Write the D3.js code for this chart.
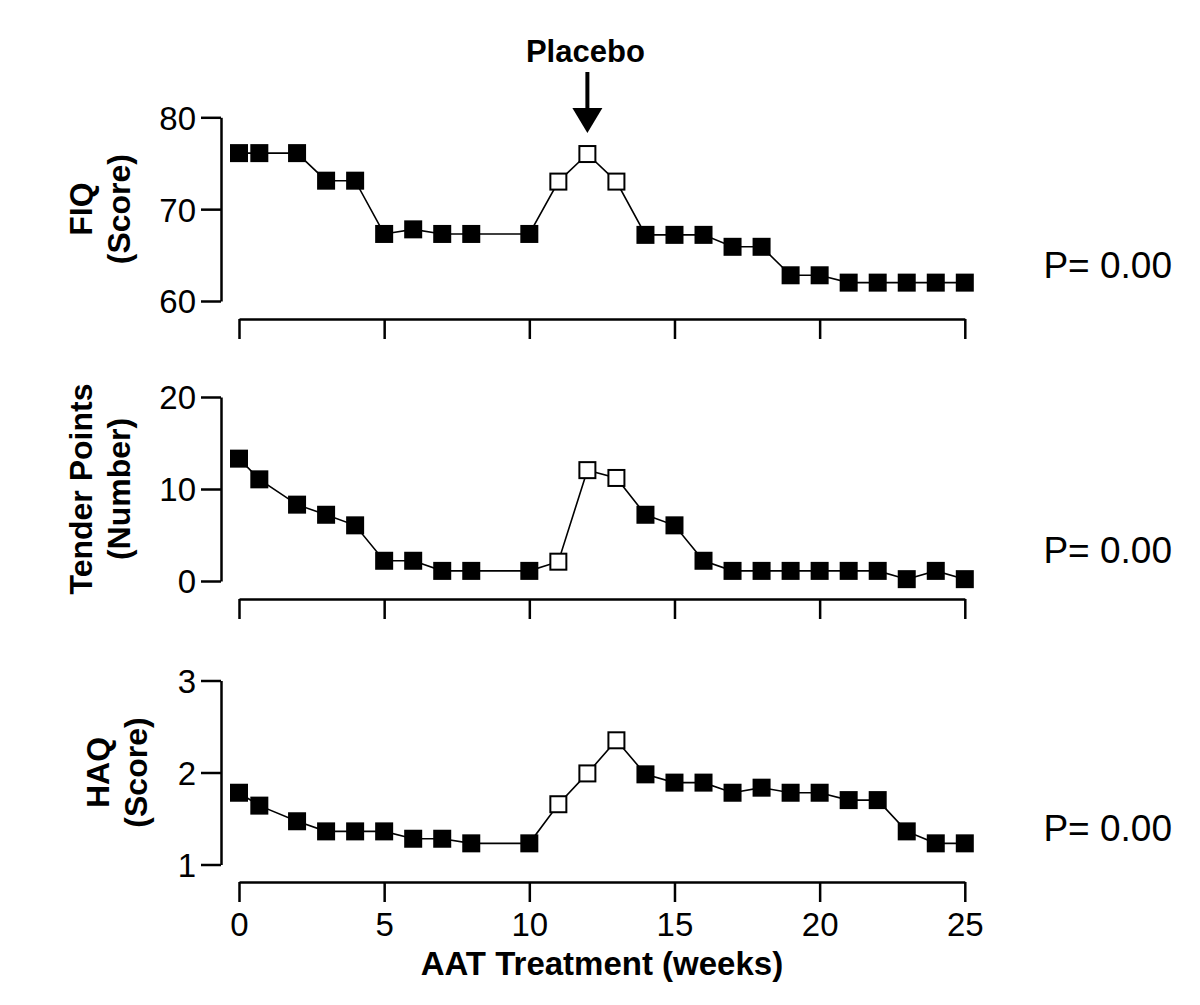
<!DOCTYPE html>
<html>
<head>
<meta charset="utf-8">
<script src="https://cdn.jsdelivr.net/npm/d3@7"></script>
<style>
  body { margin: 0; background: #fff; }
  svg { display: block; font-family: "Liberation Sans", Arial, sans-serif; }
  .axis path, .axis line { stroke: #000; stroke-width: 2.5; }
  .axis text { font-size: 33px; fill: #000; }
  .ylab { font-size: 32px; font-weight: bold; }
</style>
</head>
<body>
<div id="chart"></div>
<script>
// weeks of AAT treatment (second visit is just after baseline)
var weeks = [0, 0.7, 2, 3, 4, 5, 6, 7, 8, 10, 11, 12, 13, 14, 15, 16, 17, 18, 19, 20, 21, 22, 23, 24, 25];
// placebo weeks are drawn as open squares
var placeboWeeks = [11, 12, 13];

var fiqScore = [76.1, 76.1, 76.1, 73.1, 73.1, 67.3, 67.8, 67.3, 67.3, 67.3, 73.0, 76.0, 73.0,
                67.2, 67.2, 67.2, 65.9, 65.9, 62.8, 62.8, 62.0, 62.0, 62.0, 62.0, 62.0];
var tenderPoints = [13.3, 11.05, 8.3, 7.2, 6.05, 2.2, 2.2, 1.1, 1.1, 1.1, 2.1, 12.05, 11.2,
                    7.2, 6.05, 2.2, 1.1, 1.1, 1.1, 1.1, 1.1, 1.1, 0.2, 1.1, 0.2];
var haqScore = [1.78, 1.64, 1.47, 1.36, 1.36, 1.36, 1.28, 1.28, 1.23, 1.23, 1.655, 1.99, 2.35,
                1.98, 1.89, 1.89, 1.78, 1.835, 1.78, 1.78, 1.70, 1.70, 1.36, 1.23, 1.23];

var xTicks = [0, 5, 10, 15, 20, 25];
var fiqTicks = [60, 70, 80];
var tenderTicks = [0, 10, 20];
var haqTicks = [1, 2, 3];
var pLabel = "P= 0.00";

var svgWidth = 1200, svgHeight = 1005;

var svg = d3.select("#chart").append("svg")
    .attr("width", svgWidth)
    .attr("height", svgHeight);

var xScale = d3.scaleLinear().domain([0, 25]).range([239, 964.8]);

var panels = [
  { lines: ["FIQ", "(Score)"], values: fiqScore, ticks: fiqTicks, domain: [60, 80],
    top: 117.3, bottom: 301, xAxisY: 319, labX: [80, 118], pY: 278, showX: false },
  { lines: ["Tender Points", "(Number)"], values: tenderPoints, ticks: tenderTicks, domain: [0, 20],
    top: 397, bottom: 581, xAxisY: 599, labX: [80, 118], pY: 563, showX: false },
  { lines: ["HAQ", "(Score)"], values: haqScore, ticks: haqTicks, domain: [1, 3],
    top: 680.5, bottom: 864.5, xAxisY: 882, labX: [97, 135], pY: 841, showX: true }
];

panels.forEach(function(p) {
  var yScale = d3.scaleLinear().domain(p.domain).range([p.bottom, p.top]);

  // y axis
  var yAxis = d3.axisLeft(yScale).tickValues(p.ticks).tickFormat(d3.format("d"))
      .tickSize(20).tickSizeOuter(0).tickPadding(5);
  var yg = svg.append("g").attr("class", "axis")
      .attr("transform", "translate(221,0)")
      .call(yAxis);
  yg.selectAll("text").attr("dy", "0.36em");

  // x axis
  var xAxis = d3.axisBottom(xScale).tickValues(xTicks).tickSize(20).tickSizeOuter(0).tickPadding(11);
  if (!p.showX) xAxis.tickFormat("");
  svg.append("g").attr("class", "axis")
      .attr("transform", "translate(0," + p.xAxisY + ")")
      .call(xAxis);

  // y title, two lines, rotated
  var midY = (p.top + p.bottom) / 2;
  p.lines.forEach(function(txt, i) {
    svg.append("text")
      .attr("class", "ylab")
      .attr("transform", "translate(" + p.labX[i] + "," + midY + ") rotate(-90)")
      .attr("text-anchor", "middle")
      .attr("dy", "0.36em")
      .text(txt);
  });

  var pts = weeks.map(function(w, i) {
    return { x: w, y: p.values[i], placebo: placeboWeeks.indexOf(w) >= 0 };
  });

  var line = d3.line().x(d => xScale(d.x)).y(d => yScale(d.y));
  svg.append("path")
    .datum(pts)
    .attr("d", line)
    .attr("fill", "none")
    .attr("stroke", "#000")
    .attr("stroke-width", 1.6);

  svg.append("g").selectAll("rect")
    .data(pts)
    .enter()
    .append("rect")
    .attr("x", d => xScale(d.x) - (d.placebo ? 8 : 9))
    .attr("y", d => yScale(d.y) - (d.placebo ? 8 : 9))
    .attr("width", d => d.placebo ? 16 : 18)
    .attr("height", d => d.placebo ? 16 : 18)
    .attr("fill", d => d.placebo ? "#fff" : "#000")
    .attr("stroke", d => d.placebo ? "#000" : "none")
    .attr("stroke-width", 2);

  svg.append("text")
    .attr("x", 1172)
    .attr("y", p.pY)
    .attr("text-anchor", "end")
    .style("font-size", "37px")
    .text(pLabel);
});

// x axis title
svg.append("text")
  .attr("x", (xScale(0) + xScale(25)) / 2)
  .attr("y", 975)
  .attr("text-anchor", "middle")
  .style("font-size", "33px")
  .style("font-weight", "bold")
  .text("AAT Treatment (weeks)");

// placebo arrow
var ax = xScale(12);
svg.append("text")
  .attr("x", ax - 2)
  .attr("y", 62)
  .attr("text-anchor", "middle")
  .style("font-size", "31px")
  .style("font-weight", "bold")
  .text("Placebo");
svg.append("line")
  .attr("x1", ax).attr("x2", ax)
  .attr("y1", 72).attr("y2", 112)
  .attr("stroke", "#000")
  .attr("stroke-width", 4);
svg.append("path")
  .attr("d", "M" + (ax - 15) + ",108L" + (ax + 15) + ",108L" + ax + ",133Z")
  .attr("fill", "#000");
</script>
</body>
</html>
